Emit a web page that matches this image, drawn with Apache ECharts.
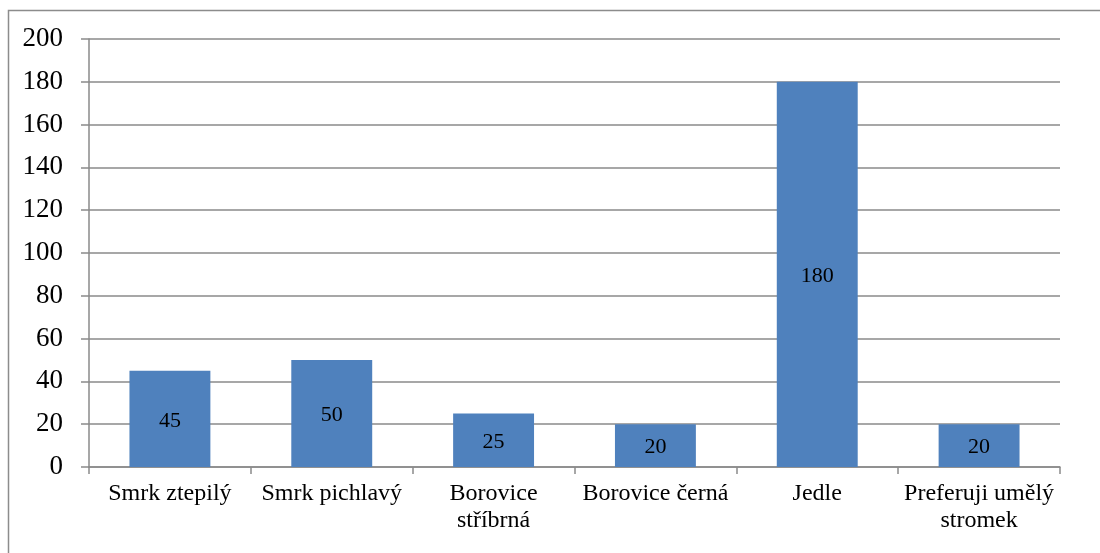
<!DOCTYPE html>
<html>
<head>
<meta charset="utf-8">
<script src="https://cdn.jsdelivr.net/npm/echarts@6/dist/echarts.min.js"></script>
<style>
  html, body { margin: 0; padding: 0; background: #fff; }
  #chart { width: 1100px; height: 553px; }
</style>
</head>
<body>
<div id="chart"></div>
<script>
var categories = ['Smrk ztepilý', 'Smrk pichlavý', 'Borovice\nstříbrná', 'Borovice černá', 'Jedle', 'Preferuji umělý\nstromek'];
var values = [45, 50, 25, 20, 180, 20];
var yTicks = [0, 20, 40, 60, 80, 100, 120, 140, 160, 180, 200];

var fontName = '"Liberation Serif", "DejaVu Serif", serif';
var gridColor = '#8a8a8a';

var chart = echarts.init(document.getElementById('chart'));
var option = {
    animation: false,
    backgroundColor: '#fff',
    graphic: [{
        type: 'rect',
        shape: { x: 8.5, y: 10.5, width: 1300, height: 700 },
        style: { fill: 'none', stroke: '#8c8c8c', lineWidth: 1.5 },
        silent: true
    }],
    grid: { left: 89, right: 40, top: 39, bottom: 86 },
    xAxis: {
        type: 'category',
        data: categories,
        axisLine: { lineStyle: { color: gridColor, width: 1.5 } },
        axisTick: { show: true, length: 7, alignWithLabel: false, lineStyle: { color: gridColor, width: 1.5 } },
        axisLabel: {
            interval: 0,
            margin: 13,
            color: '#000',
            fontFamily: fontName,
            fontSize: 24,
            lineHeight: 27
        }
    },
    yAxis: {
        type: 'value',
        min: yTicks[0],
        max: yTicks[yTicks.length - 1],
        interval: 20,
        axisLine: { show: true, lineStyle: { color: gridColor, width: 1.5 } },
        axisTick: { show: true, length: 8, lineStyle: { color: gridColor, width: 1.5 } },
        splitLine: { lineStyle: { color: gridColor, width: 1.5 } },
        axisLabel: {
            margin: 26,
            color: '#000',
            fontFamily: fontName,
            fontSize: 27
        }
    },
    series: [{
        type: 'bar',
        data: values,
        barWidth: '50%',
        itemStyle: { color: '#4F81BD' },
        label: {
            show: true,
            position: 'inside',
            offset: [0, 2],
            color: '#000',
            fontFamily: fontName,
            fontSize: 22
        }
    }]
};
chart.setOption(option);
</script>
</body>
</html>
